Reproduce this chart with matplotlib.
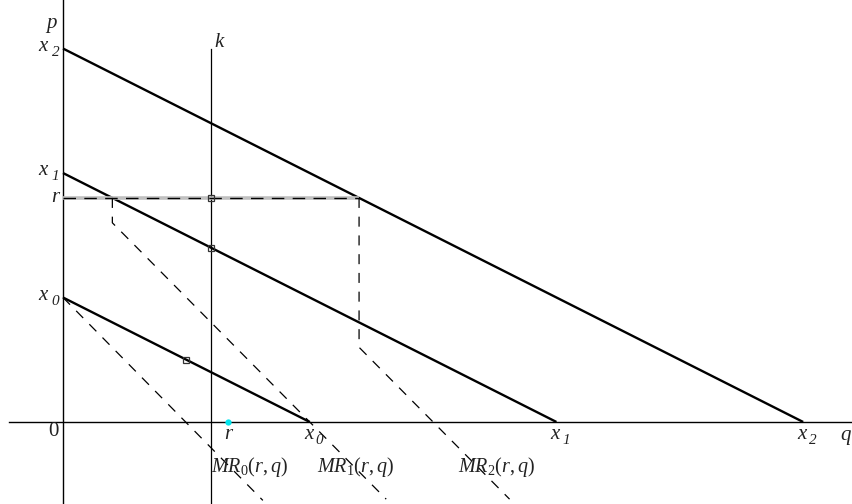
import matplotlib
matplotlib.use("Agg")
import matplotlib.pyplot as plt

# demand intercepts x0, x1, x2 (same value on both axes, in their own units)
intercepts = [1.0, 2.0, 3.0]
int_names = ["0", "1", "2"]
r_cap = 1.8          # price ceiling r
k_q = 0.6            # capacity k
r_q = 0.67           # r marked on the q axis (cyan dot)

# marginal revenue paths (dashed)
mr0_q = [0.0, 0.81]
mr0_p = [1.0, -0.63]
mr1_q = [0.2, 0.2, 1.31]
mr1_p = [1.8, 1.6, -0.62]
mr2_q = [1.2, 1.2, 1.81]
mr2_p = [1.8, 0.6, -0.62]
mr_label_q = [0.6, 1.03, 1.6]

# small square markers
sq_q = [0.6, 0.6, 0.5]
sq_p = [1.8, 1.4, 0.5]

plt.rcParams["mathtext.fontset"] = "custom"
plt.rcParams["mathtext.it"] = "Liberation Serif:italic"
plt.rcParams["mathtext.rm"] = "Liberation Serif"

fig = plt.figure(figsize=(8.52, 5.04), dpi=100)
ax = fig.add_axes([0, 0, 1, 1])
ax.set_xlim(-0.2554, 3.198)
ax.set_ylim(-0.659, 3.39)
ax.axis("off")

FONT = dict(family="Liberation Serif", style="italic", color="#222222")

# axes
ax.plot([-0.22, 3.2], [0, 0], color="black", lw=1.0)
ax.plot([0, 0], [-0.7, 3.4], color="black", lw=1.0)
ax.plot([k_q, k_q], [-0.7, 3.0], color="black", lw=0.9)

# demand curves
for x in intercepts:
    ax.plot([0, x], [x, 0], color="black", lw=1.7, solid_capstyle="butt")

# price ceiling line: grey band with black dashes on top
ax.plot([0, mr2_q[0]], [r_cap, r_cap], color="#c0c0c0", lw=2.6, solid_capstyle="butt")
ax.plot([0, mr2_q[0]], [r_cap, r_cap], color="black", lw=1.0, dashes=(9, 6))

# MR curves
for qs, ps in [(mr0_q, mr0_p), (mr1_q, mr1_p), (mr2_q, mr2_p)]:
    ax.plot(qs, ps, color="black", lw=0.9, dashes=(8, 7))

ax.plot(sq_q, sq_p, ls="none", marker="s", ms=5, mfc="none", mec="#333333", mew=0.9)
ax.plot([r_q], [0], ls="none", marker="o", ms=4.5, color="#00e5ee", mec="none")


def xlabel(q, p, sub, dq=0.045, dp=-0.05):
    ax.text(q, p, "x", fontsize=15, ha="center", va="center", **FONT)
    ax.text(q + dq, p + dp, sub, fontsize=11, ha="center", va="center", **FONT)


# labels on the p axis
ax.text(-0.045, 3.2, "p", fontsize=15, ha="center", va="center", **FONT)
for x, s in zip(intercepts, int_names):
    xlabel(-0.08, x + 0.02, s, dq=0.05)
ax.text(-0.03, r_cap, "r", fontsize=15, ha="center", va="center", **FONT)
ax.text(-0.037, -0.075, "0", fontsize=15, ha="center", va="center",
        family="Liberation Serif", color="#222222")
ax.text(k_q + 0.033, 3.05, "k", fontsize=15, ha="center", va="center", **FONT)

# labels on the q axis
ax.text(r_q, -0.1, "r", fontsize=15, ha="center", va="center", **FONT)
for x, s in zip(intercepts, int_names):
    xlabel(x - 0.005, -0.1, s)
ax.text(3.17, -0.105, "q", fontsize=15, ha="center", va="center", **FONT)

for q, s in zip(mr_label_q, int_names):
    ax.text(q, -0.36, r"$MR_{%s}(r,q)$" % s, fontsize=14.5, ha="left", va="center",
            color="#222222")

fig.savefig("out.png", dpi=100)
